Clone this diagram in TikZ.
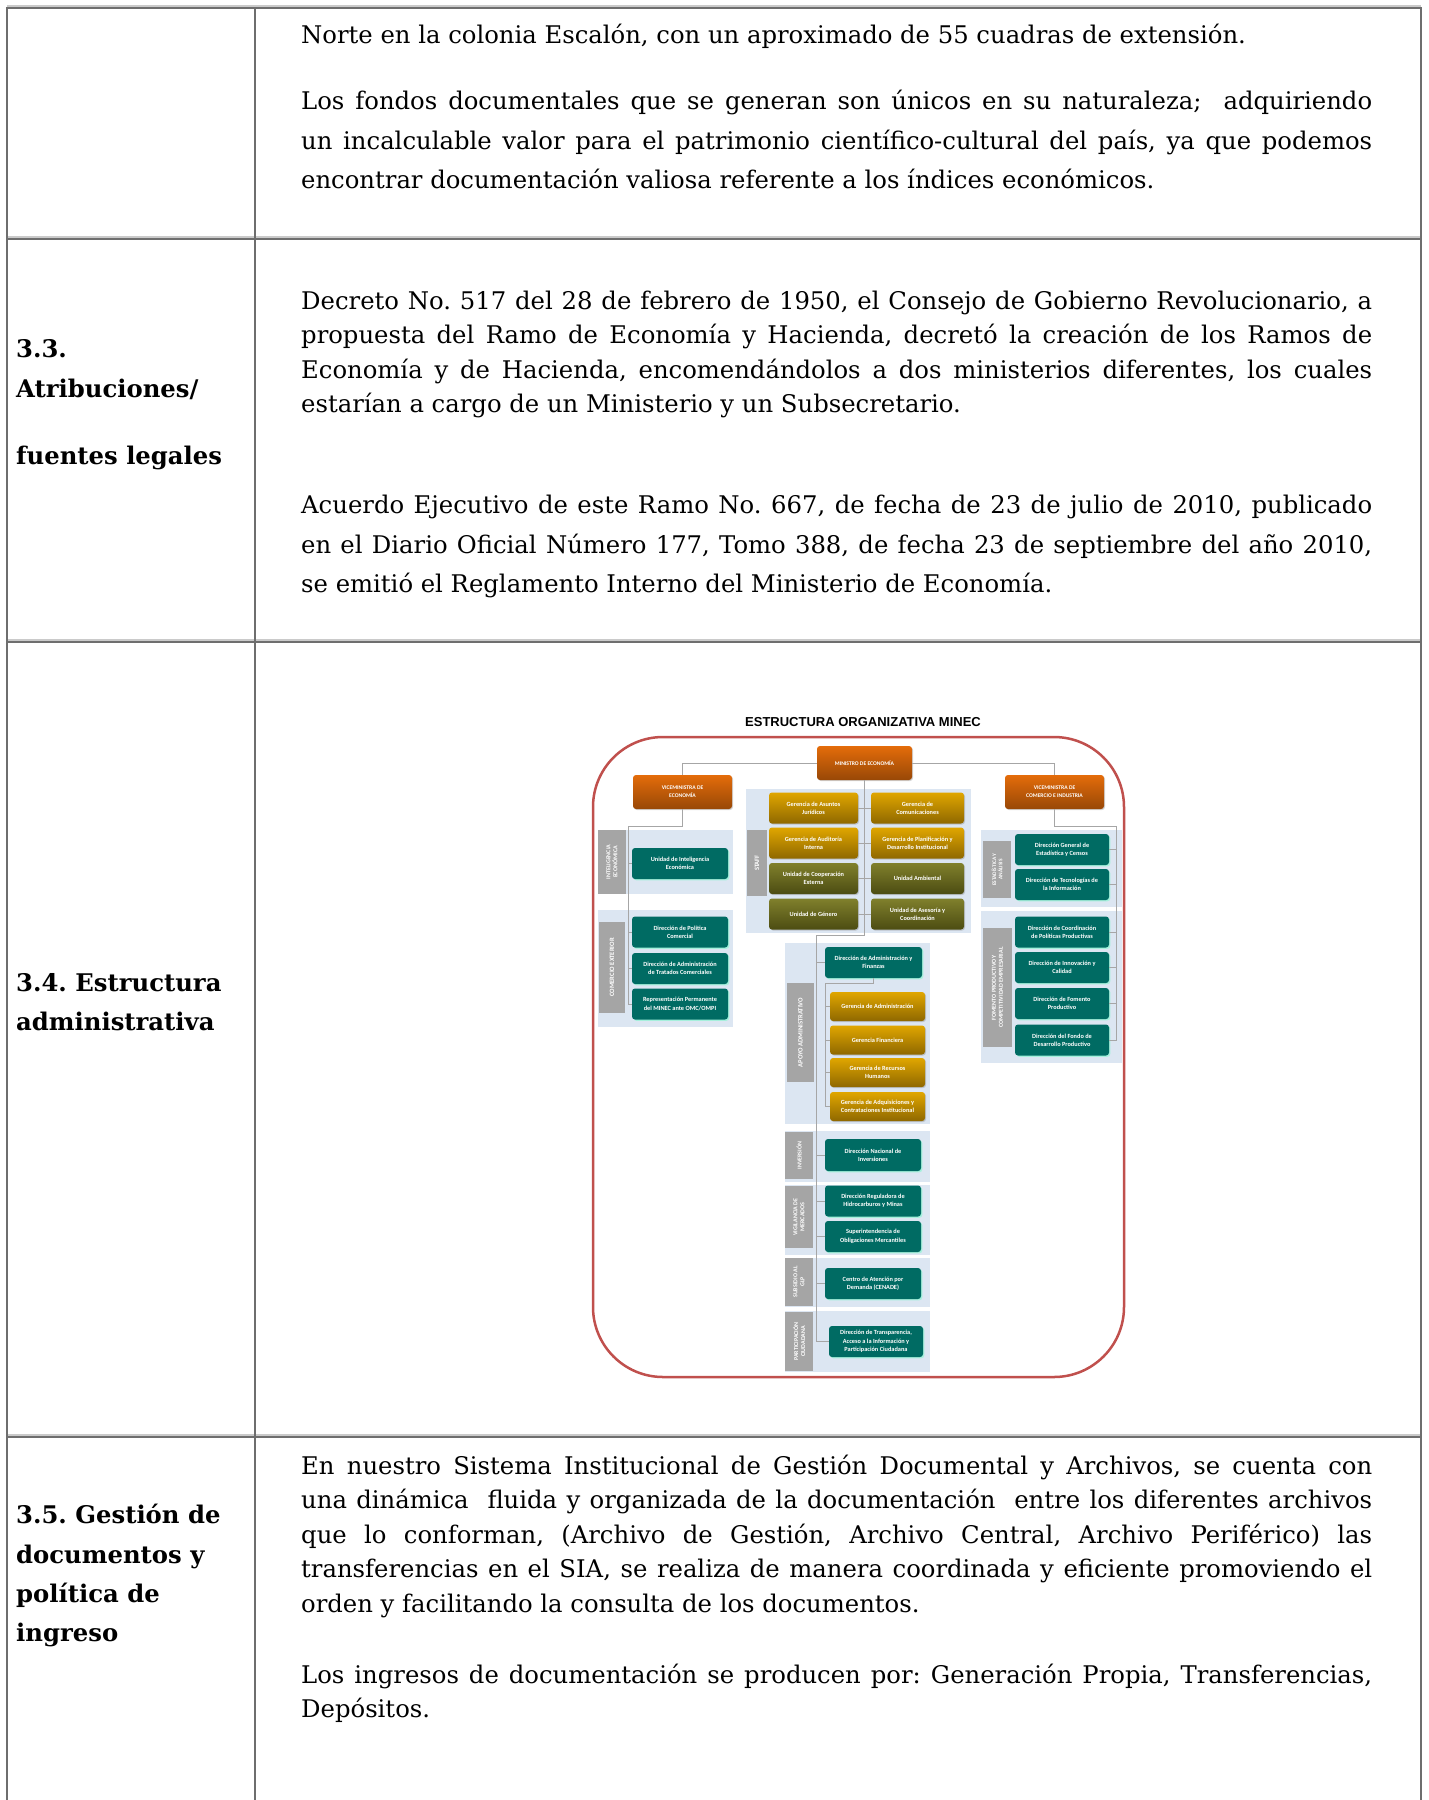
\documentclass[tikz,border=0pt]{standalone}
\usepackage{fontspec}
\setmainfont{DejaVu Serif}
\newfontfamily\orgfont{Carlito}
\newfontfamily\titlefont{Liberation Sans}
\usetikzlibrary{shadows}

\definecolor{rulegray}{HTML}{6E6E6E}
\definecolor{rulelight}{HTML}{CACACA}
\definecolor{framered}{HTML}{C0504D}
\definecolor{panelblue}{HTML}{DCE6F2}
\definecolor{taggray}{HTML}{A5A5A5}
\definecolor{linkgray}{HTML}{A6A6A6}
\definecolor{vmtop}{HTML}{E46C0A}
\definecolor{vmbot}{HTML}{984807}
\definecolor{gertop}{HTML}{E0A600}
\definecolor{gerbot}{HTML}{8F6800}
\definecolor{unitop}{HTML}{80802C}
\definecolor{unibot}{HTML}{4C4C12}
\definecolor{dirteal}{HTML}{006B63}
\definecolor{tealglow}{HTML}{A6F0DC}

\newcommand{\jline}[1]{\makebox[1071pt][s]{#1}}

\tikzset{
    tablerule/.style={draw=rulegray, line width=2pt},
    tableshade/.style={draw=rulelight, line width=2pt},
    bodytext/.style={anchor=base west, inner sep=0pt, font=\fontsize{24.3}{28}\selectfont},
    headtext/.style={anchor=base west, inner sep=0pt, font=\fontsize{24.3}{28}\selectfont\bfseries},
    orgbox/.style={rectangle, rounded corners=3pt, inner sep=1pt, align=center, text=white,
        font=\orgfont\bfseries\fontsize{6.3}{8.4}\selectfont, minimum height=31pt},
    vmbox/.style={orgbox, top color=vmtop, bottom color=vmbot, minimum width=99pt, minimum height=34pt,
        font=\orgfont\bfseries\fontsize{5.6}{8}\selectfont,
        drop shadow={shadow xshift=1pt, shadow yshift=-1pt, opacity=.35}},
    gerbox/.style={orgbox, top color=gertop, bottom color=gerbot,
        drop shadow={shadow xshift=1pt, shadow yshift=-1pt, opacity=.35}},
    unibox/.style={orgbox, top color=unitop, bottom color=unibot,
        drop shadow={shadow xshift=1pt, shadow yshift=-1pt, opacity=.35}},
    dirbox/.style={orgbox, fill=dirteal,
        drop shadow={shadow xshift=1.3pt, shadow yshift=-1.3pt, fill=tealglow, opacity=1}},
    panel/.style={fill=panelblue, inner sep=0pt},
    tagbox/.style={fill=taggray, rotate=90, inner sep=0pt, align=center, text=white,
        font=\orgfont\bfseries\fontsize{6}{7}\selectfont},
    conn/.style={draw=linkgray, line width=1pt},
}

\begin{document}
\frenchspacing
\begin{tikzpicture}[x=1pt, y=-1pt]
    \useasboundingbox (0,0) rectangle (1429,1800);

    % table
    \foreach \yy in {8,239,642,1437} {
        \draw[tableshade] (7,\yy-2.5) -- (1421,\yy-2.5);
        \draw[tablerule] (7,\yy) -- (1421,\yy);
    }
    \foreach \xx in {7,255,1421}
        \draw[tablerule] (\xx,7) -- (\xx,1800);

    \node[bodytext] (ta1) at (301,43) {Norte en la colonia Escalón, con un aproximado de 55 cuadras de extensión.};
    \node[bodytext] (ta2) at (301,109) {\jline{Los fondos documentales que se generan son únicos en su naturaleza;\ \ adquiriendo}};
    \node[bodytext] (ta3) at (301,149) {\jline{un incalculable valor para el patrimonio científico-cultural del país, ya que podemos}};
    \node[bodytext] (ta4) at (301,188) {encontrar documentación valiosa referente a los índices económicos.};

    \node[headtext] (hb1) at (16,357) {3.3.};
    \node[headtext] (hb2) at (16,397) {Atribuciones/};
    \node[headtext] (hb3) at (16,464) {fuentes legales};
    \node[bodytext] (tb1) at (301,309) {\jline{Decreto No. 517 del 28 de febrero de 1950, el Consejo de Gobierno Revolucionario, a}};
    \node[bodytext] (tb2) at (301,343) {\jline{propuesta del Ramo de Economía y Hacienda, decretó la creación de los Ramos de}};
    \node[bodytext] (tb3) at (301,378) {\jline{Economía y de Hacienda, encomendándolos a dos ministerios diferentes, los cuales}};
    \node[bodytext] (tb4) at (301,412) {estarían a cargo de un Ministerio y un Subsecretario.};
    \node[bodytext] (tb5) at (301,513) {\jline{Acuerdo Ejecutivo de este Ramo No. 667, de fecha de 23 de julio de 2010, publicado}};
    \node[bodytext] (tb6) at (301,553) {\jline{en el Diario Oficial Número 177, Tomo 388, de fecha 23 de septiembre del año 2010,}};
    \node[bodytext] (tb7) at (301,592) {se emitió el Reglamento Interno del Ministerio de Economía.};

    \node[headtext] (hc1) at (16,991) {3.4. Estructura};
    \node[headtext] (hc2) at (16,1030) {administrativa};

    \node[headtext] (hd1) at (16,1523) {3.5. Gestión de};
    \node[headtext] (hd2) at (16,1563) {documentos y};
    \node[headtext] (hd3) at (16,1602) {política de};
    \node[headtext] (hd4) at (16,1641) {ingreso};
    \node[bodytext] (td1) at (301,1474) {\jline{En nuestro Sistema Institucional de Gestión Documental y Archivos, se cuenta con}};
    \node[bodytext] (td2) at (301,1508) {\jline{una dinámica\ \ fluida y organizada de la documentación\ \ entre los diferentes archivos}};
    \node[bodytext] (td3) at (301,1543) {\jline{que lo conforman, (Archivo de Gestión, Archivo Central, Archivo Periférico) las}};
    \node[bodytext] (td4) at (301,1577) {\jline{transferencias en el SIA, se realiza de manera coordinada y eficiente promoviendo el}};
    \node[bodytext] (td5) at (301,1612) {orden y facilitando la consulta de los documentos.};
    \node[bodytext] (td6) at (301,1683) {\jline{Los ingresos de documentación se producen por: Generación Propia, Transferencias,}};
    \node[bodytext] (td7) at (301,1717) {Depósitos.};

    % organigrama
    \node[font=\titlefont\bfseries\fontsize{13}{15}\selectfont] (ttl) at (863,722) {ESTRUCTURA ORGANIZATIVA MINEC};
    \draw[framered, line width=2.5pt, rounded corners=70pt] (593,737) rectangle (1124,1377);

    \node[panel, minimum width=225pt, minimum height=144pt] (pstaff) at (858.5,861) {};
    \node[panel, minimum width=135pt, minimum height=64pt] (pint) at (665.5,862) {};
    \node[panel, minimum width=135pt, minimum height=117pt] (pcom) at (665.5,968.5) {};
    \node[panel, minimum width=141pt, minimum height=77pt] (pest) at (1051.5,868.5) {};
    \node[panel, minimum width=141pt, minimum height=152pt] (pfom) at (1051.5,987) {};
    \node[panel, minimum width=145pt, minimum height=181pt] (papo) at (857.5,1033.5) {};
    \node[panel, minimum width=145pt, minimum height=51pt] (pinv) at (857.5,1156.5) {};
    \node[panel, minimum width=145pt, minimum height=70pt] (pvig) at (857.5,1220) {};
    \node[panel, minimum width=145pt, minimum height=49pt] (psub) at (857.5,1282.5) {};
    \node[panel, minimum width=145pt, minimum height=61pt] (ppar) at (857.5,1341.5) {};

    \node[tagbox, minimum width=64pt, minimum height=28pt] (tint) at (612,862) {INTELIGENCIA\\ECONÓMICA};
    \node[tagbox, minimum width=91pt, minimum height=26pt, font=\orgfont\bfseries\fontsize{6.6}{7.6}\selectfont] (tcom) at (612,967.5) {COMERCIO EXTERIOR};
    \node[tagbox, minimum width=66pt, minimum height=20pt, font=\orgfont\bfseries\fontsize{6.6}{7.6}\selectfont] (tstaff) at (757,863) {STAFF};
    \node[tagbox, minimum width=57pt, minimum height=28pt, font=\orgfont\bfseries\fontsize{5.4}{6.4}\selectfont] (test) at (997,869.5) {ESTADÍSTICA Y\\ANÁLISIS};
    \node[tagbox, minimum width=119pt, minimum height=29pt] (tfom) at (997.5,987.5) {FOMENTO PRODUCTIVO Y\\COMPETITIVIDAD EMPRESARIAL};
    \node[tagbox, minimum width=99pt, minimum height=27pt, font=\orgfont\bfseries\fontsize{6.6}{7.6}\selectfont] (tapo) at (800.5,1032.5) {APOYO ADMINISTRATIVO};
    \node[tagbox, minimum width=47pt, minimum height=28pt] (tinv) at (799,1155.5) {INVERSIÓN};
    \node[tagbox, minimum width=62pt, minimum height=28pt] (tvig) at (799,1217) {VIGILANCIA DE\\MERCADOS};
    \node[tagbox, minimum width=48pt, minimum height=28pt] (tsub) at (799,1282) {SUBSIDIO AL\\GLP};
    \node[tagbox, minimum width=59pt, minimum height=28pt] (tpar) at (799,1341.5) {PARTICIPACIÓN\\CIUDADANA};

    \node[vmbox, minimum width=95pt] (min) at (864.5,763) {MINISTRO DE ECONOMÍA};
    \node[vmbox] (veco) at (682.5,792) {VICEMINISTRA DE\\ECONOMÍA};
    \node[vmbox] (vcom) at (1054.5,792) {VICEMINISTRA DE\\COMERCIO E INDUSTRIA};

    \node[gerbox, minimum width=89pt] (st1) at (813.5,808) {Gerencia de Asuntos\\Jurídicos};
    \node[gerbox, minimum width=93pt] (st2) at (917.5,808) {Gerencia de\\Comunicaciones};
    \node[gerbox, minimum width=89pt] (st3) at (813.5,843) {Gerencia de Auditoría\\Interna};
    \node[gerbox, minimum width=93pt] (st4) at (917.5,843) {Gerencia de Planificación y\\Desarrollo Institucional};
    \node[unibox, minimum width=89pt] (st5) at (813.5,878.5) {Unidad de Cooperación\\Externa};
    \node[unibox, minimum width=93pt] (st6) at (917.5,878.5) {Unidad Ambiental};
    \node[unibox, minimum width=89pt] (st7) at (813.5,914) {Unidad de Género};
    \node[unibox, minimum width=93pt] (st8) at (917.5,914) {Unidad de Asesoría y\\Coordinación};

    \node[dirbox, minimum width=96pt] (ie1) at (680,863.5) {Unidad de Inteligencia\\Económica};
    \node[dirbox, minimum width=96pt] (ce1) at (680,932) {Dirección de Política\\Comercial};
    \node[dirbox, minimum width=96pt] (ce2) at (680,968.5) {Dirección de Administración\\de Tratados Comerciales};
    \node[dirbox, minimum width=96pt] (ce3) at (680,1004) {Representación Permanente\\del MINEC ante OMC/OMPI};

    \node[dirbox, minimum width=94pt] (ea1) at (1062,849.5) {Dirección General de\\Estadística y Censos};
    \node[dirbox, minimum width=94pt] (ea2) at (1062,884.5) {Dirección de Tecnologías de\\la Información};
    \node[dirbox, minimum width=94pt] (fp1) at (1062,932) {Dirección de Coordinación\\de Políticas Productivas};
    \node[dirbox, minimum width=94pt] (fp2) at (1062,967.5) {Dirección de Innovación y\\Calidad};
    \node[dirbox, minimum width=94pt] (fp3) at (1062,1003.5) {Dirección de Fomento\\Productivo};
    \node[dirbox, minimum width=94pt] (fp4) at (1062,1040) {Dirección del Fondo de\\Desarrollo Productivo};

    \node[dirbox, minimum width=97pt] (daf) at (873.5,962.5) {Dirección de Administración y\\Finanzas};
    \node[gerbox, minimum width=95pt, minimum height=29pt] (ga1) at (877.5,1006.5) {Gerencia de Administración};
    \node[gerbox, minimum width=95pt, minimum height=29pt] (ga2) at (877.5,1040) {Gerencia Financiera};
    \node[gerbox, minimum width=95pt, minimum height=29pt] (ga3) at (877.5,1072.5) {Gerencia de Recursos\\Humanos};
    \node[gerbox, minimum width=95pt, minimum height=29pt] (ga4) at (877.5,1106.5) {Gerencia de Adquisiciones y\\Contrataciones Institucional};

    \node[dirbox, minimum width=96pt, minimum height=32pt] (inv1) at (873,1155) {Dirección Nacional de\\Inversiones};
    \node[dirbox, minimum width=96pt] (vm1) at (873,1201) {Dirección Reguladora de\\Hidrocarburos y Minas};
    \node[dirbox, minimum width=96pt] (vm2) at (873,1236.5) {Superintendencia de\\Obligaciones Mercantiles};
    \node[dirbox, minimum width=96pt] (sg1) at (873,1283.5) {Centro de Atención por\\Demanda (CENADE)};
    \node[dirbox, minimum width=94pt] (pc1) at (876,1341.5) {Dirección de Transparencia,\\Acceso a la Información y\\Participación Ciudadana};

    \coordinate (ljog) at (628,826);
    \coordinate (rjog) at (1116,826);
    \coordinate (cjog) at (816,935);
    \coordinate (ajog) at (825,983);

    \draw[conn] (min.west) -| (veco.north);
    \draw[conn] (min.east) -| (vcom.north);

    \draw[conn] (veco.south) |- (ljog) |- (ce3.west);
    \foreach \n in {ie1,ce1,ce2}
        \draw[conn] (ljog |- \n) -- (\n.west);

    \draw[conn] (vcom.south) |- (rjog) |- (fp4.east);
    \foreach \n in {ea1,ea2,fp1,fp2,fp3}
        \draw[conn] (rjog |- \n) -- (\n.east);

    \draw[conn] (min.south) |- (cjog) |- (pc1.west);
    \foreach \n in {daf,inv1,vm1,vm2,sg1}
        \draw[conn] (cjog |- \n) -- (\n.west);

    \draw[conn] (st1.east) -- (st2.west);
    \draw[conn] (st3.east) -- (st4.west);
    \draw[conn] (st5.east) -- (st6.west);
    \draw[conn] (st7.east) -- (st8.west);

    \draw[conn] (daf.south) |- (ajog) |- (ga4.west);
    \foreach \n in {ga1,ga2,ga3}
        \draw[conn] (ajog |- \n) -- (\n.west);
\end{tikzpicture}
\end{document}
